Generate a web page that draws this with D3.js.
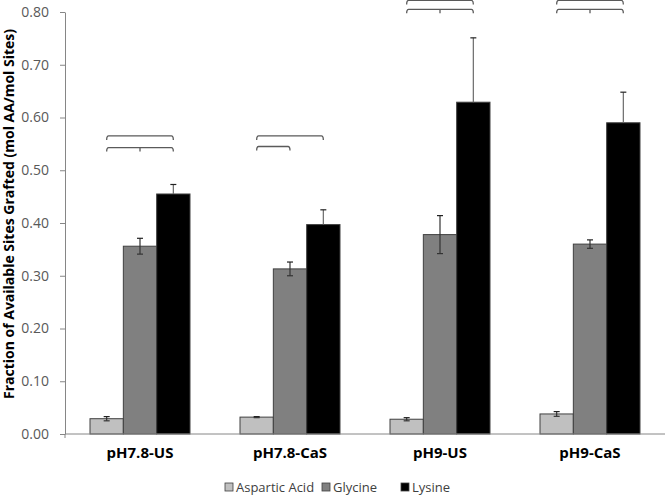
<!DOCTYPE html>
<html>
<head>
<meta charset="utf-8">
<script src="https://cdn.jsdelivr.net/npm/d3@7"></script>
<style>
  body { margin: 0; background: #fff; }
  svg { display: block; font-family: "Open Sans", "Noto Sans", sans-serif; }
</style>
</head>
<body>
<div id="chart"></div>
<script>
const width = 666;
const height = 496;

// data
const categories = ["pH7.8-US", "pH7.8-CaS", "pH9-US", "pH9-CaS"];
const seriesNames = ["Aspartic Acid", "Glycine", "Lysine"];
const aspartic = [0.029, 0.032, 0.028, 0.038];
const glycine = [0.356, 0.313, 0.378, 0.360];
const lysine = [0.455, 0.397, 0.629, 0.590];
const asparticErr = [0.004, 0.001, 0.003, 0.0045];
const glycineErr = [0.015, 0.013, 0.036, 0.008];
const lysineErr = [0.018, 0.028, 0.122, 0.058];
const yTicks = [0, 0.1, 0.2, 0.3, 0.4, 0.5, 0.6, 0.7, 0.8];
// significance brackets: category, from series, to series, height (data units), middle tick
const brackets = [
  {cat: 0, from: 0, to: 2, level: 0.565, mid: false},
  {cat: 0, from: 0, to: 2, level: 0.543, mid: true},
  {cat: 1, from: 0, to: 2, level: 0.565, mid: false},
  {cat: 1, from: 0, to: 1, level: 0.545, mid: false},
  {cat: 2, from: 0, to: 2, level: 0.822, mid: false},
  {cat: 2, from: 0, to: 2, level: 0.805, mid: true},
  {cat: 3, from: 0, to: 2, level: 0.822, mid: false},
  {cat: 3, from: 0, to: 2, level: 0.805, mid: true}
];

const colors = ["#c0c0c0", "#808080", "#000000"];
const values = [aspartic, glycine, lysine];
const errors = [asparticErr, glycineErr, lysineErr];

const margin = {top: 12, right: 1, bottom: 62, left: 65};

const svg = d3.select("div#chart")
  .append("svg")
  .attr("width", width)
  .attr("height", height);

const x0 = d3.scaleBand()
  .domain(categories)
  .range([margin.left, width - margin.right])
  .paddingInner(1/3)
  .paddingOuter(1/6);

const x1 = d3.scaleBand()
  .domain(d3.range(seriesNames.length))
  .range([0, x0.bandwidth()]);

const y = d3.scaleLinear()
  .domain([0, 0.8])
  .range([434, margin.top]);

// y axis
const yAxis = svg.append("g")
  .attr("transform", "translate(" + margin.left + ",0)")
  .call(d3.axisLeft(y).tickValues(yTicks).tickFormat(d3.format(".2f")).tickSize(5).tickSizeOuter(0).tickPadding(11));
yAxis.select(".domain").attr("stroke", "#868686");
yAxis.selectAll(".tick line").attr("stroke", "#868686");
yAxis.selectAll(".tick text")
  .attr("fill", "#595959")
  .attr("font-size", 14)
  .attr("font-family", "'Open Sans', sans-serif");

// bars
const groups = svg.append("g").selectAll("g")
  .data(categories)
  .enter()
  .append("g")
  .attr("transform", function(d) { return "translate(" + x0(d) + ",0)"; });

function cells(d, i) {
  return values.map(function(s, k) { return {k: k, v: s[i], e: errors[k][i]}; });
}

groups.selectAll("rect")
  .data(cells)
  .enter()
  .append("rect")
  .attr("x", function(d) { return x1(d.k); })
  .attr("y", function(d) { return y(d.v); })
  .attr("width", x1.bandwidth())
  .attr("height", function(d) { return y(0) - y(d.v); })
  .attr("fill", function(d) { return colors[d.k]; })
  .attr("stroke", "#404040")
  .attr("stroke-width", 1);

// error bars (lysine lower half hides in the black bar)
const err = groups.selectAll("g.err")
  .data(cells)
  .enter()
  .append("g")
  .attr("class", "err")
  .attr("stroke", function(d) { return d.k == 2 ? "#6a6a6a" : "#333"; })
  .attr("stroke-width", 1.2);

err.append("line")
  .attr("x1", function(d) { return x1(d.k) + x1.bandwidth() / 2; })
  .attr("x2", function(d) { return x1(d.k) + x1.bandwidth() / 2; })
  .attr("y1", function(d) { return y(d.v + d.e); })
  .attr("y2", function(d) { return d.k == 2 ? y(d.v) : y(d.v - d.e); });
err.append("line")
  .attr("x1", function(d) { return x1(d.k) + x1.bandwidth() / 2 - 3; })
  .attr("x2", function(d) { return x1(d.k) + x1.bandwidth() / 2 + 3; })
  .attr("y1", function(d) { return y(d.v + d.e); })
  .attr("y2", function(d) { return y(d.v + d.e); })
  .attr("stroke", "#222");
err.filter(function(d) { return d.k != 2; })
  .append("line")
  .attr("x1", function(d) { return x1(d.k) + x1.bandwidth() / 2 - 3; })
  .attr("x2", function(d) { return x1(d.k) + x1.bandwidth() / 2 + 3; })
  .attr("y1", function(d) { return y(d.v - d.e); })
  .attr("y2", function(d) { return y(d.v - d.e); });

// x axis
svg.append("line")
  .attr("x1", margin.left)
  .attr("x2", width - margin.right)
  .attr("y1", y(0))
  .attr("y2", y(0))
  .attr("stroke", "#868686");
svg.append("line")
  .attr("x1", margin.left)
  .attr("x2", margin.left)
  .attr("y1", y(0))
  .attr("y2", y(0) + 4)
  .attr("stroke", "#868686");

svg.append("g").selectAll("text")
  .data(categories)
  .enter()
  .append("text")
  .attr("x", function(d) { return x0(d) + x0.bandwidth() / 2; })
  .attr("y", 458)
  .attr("text-anchor", "middle")
  .attr("font-size", 15)
  .attr("font-weight", "bold")
  .attr("fill", "#000")
  .text(function(d) { return d; });

// brackets
function cx(b, k) { return x0(categories[b.cat]) + x1(k) + x1.bandwidth() / 2; }
const br = svg.append("g")
  .attr("fill", "none")
  .attr("stroke", "#5a5a5a")
  .attr("stroke-width", 1.3)
  .attr("stroke-linejoin", "round");
br.selectAll("path")
  .data(brackets)
  .enter()
  .append("path")
  .attr("d", function(b) {
    const a = cx(b, b.from), c = cx(b, b.to), yy = y(b.level);
    let p = "M" + a + "," + (yy + 4) + "Q" + a + "," + yy + " " + (a + 2) + "," + yy +
            "L" + (c - 2) + "," + yy + "Q" + c + "," + yy + " " + c + "," + (yy + 4);
    if (b.mid) {
      const m = cx(b, 1);
      p += "M" + m + "," + yy + "L" + m + "," + (yy + 4);
    }
    return p;
  });

// y axis title
svg.append("text")
  .attr("transform", "translate(14,214) rotate(-90)")
  .attr("text-anchor", "middle")
  .attr("font-size", 14)
  .attr("font-weight", "bold")
  .attr("fill", "#000")
  .text("Fraction of Available Sites Grafted (mol AA/mol Sites)");

// legend
const legendX = [225, 322, 401];
const legend = svg.append("g").selectAll("g")
  .data(seriesNames)
  .enter()
  .append("g")
  .attr("transform", function(d, i) { return "translate(" + legendX[i] + ",483)"; });
legend.append("rect")
  .attr("width", 8)
  .attr("height", 8)
  .attr("fill", function(d, i) { return colors[i]; })
  .attr("stroke", "#404040")
  .attr("stroke-width", 0.8);
legend.append("text")
  .attr("x", 11)
  .attr("y", 8.5)
  .attr("font-size", 13)
  .attr("fill", "#404040")
  .text(function(d) { return d; });
</script>
</body>
</html>
